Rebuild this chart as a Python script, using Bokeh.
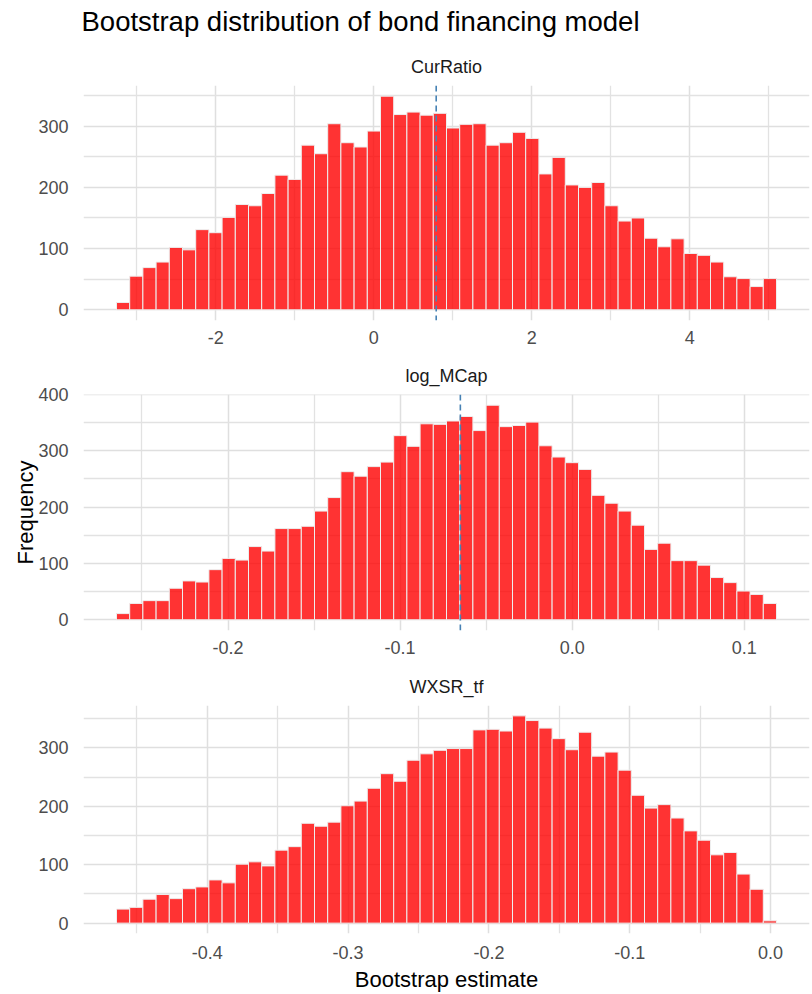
from bokeh.plotting import figure
from bokeh.models import ColumnDataSource, Span, Title, FixedTicker, PrintfTickFormatter, Range1d
from bokeh.layouts import column
from bokeh.embed import file_html
from bokeh.resources import INLINE

# ---- data ----
chart_title = "Bootstrap distribution of bond financing model"
panel_names = ["CurRatio", "log_MCap", "WXSR_tf"]

curratio_counts = [12, 55, 69, 78, 102, 98, 131, 126, 151, 172,
                   170, 190, 220, 213, 269, 255, 304, 273, 266, 292,
                   349, 319, 323, 318, 321, 297, 303, 304, 269, 273,
                   290, 280, 222, 249, 204, 200, 208, 170, 145, 150,
                   117, 103, 116, 92, 89, 78, 54, 51, 38, 51]
curratio_bin_start = -3.257
curratio_bin_width = 0.1671
curratio_estimate = 0.79
curratio_xticks = [-2, 0, 2, 4]
curratio_xminor = [-3, -1, 1, 3, 5]

logmcap_counts = [11, 29, 34, 34, 56, 69, 67, 89, 109, 106,
                  130, 122, 162, 162, 166, 193, 217, 263, 255, 272,
                  280, 327, 308, 348, 347, 353, 361, 336, 381, 343,
                  345, 351, 309, 289, 279, 267, 221, 207, 193, 168,
                  125, 136, 105, 105, 97, 75, 66, 51, 45, 29]
logmcap_bin_start = -0.2648
logmcap_bin_width = 0.00767
logmcap_estimate = -0.065
logmcap_xticks = [-0.2, -0.1, 0.0, 0.1]
logmcap_xminor = [-0.25, -0.15, -0.05, 0.05]

wxsr_counts = [24, 27, 41, 49, 42, 59, 62, 74, 69, 101,
               105, 98, 125, 131, 171, 166, 173, 201, 209, 231,
               256, 243, 279, 290, 296, 299, 299, 331, 332, 329,
               355, 347, 334, 316, 297, 327, 286, 293, 262, 219,
               197, 203, 180, 158, 142, 117, 121, 84, 58, 4]
wxsr_bin_start = -0.4645
wxsr_bin_width = 0.009375
wxsr_estimate = None
wxsr_xticks = [-0.4, -0.3, -0.2, -0.1, 0.0]
wxsr_xminor = [-0.45, -0.35, -0.25, -0.15, -0.05]

y_ticks_small = [0, 100, 200, 300]
y_ticks_large = [0, 100, 200, 300, 400]
y_minor = [50, 150, 250, 350]

FONT = "Liberation Sans"
W = 812


def make_title_strip():
    t = figure(width=W, height=45, output_backend="svg", toolbar_location=None,
               x_range=Range1d(0, 1), y_range=Range1d(0, 1),
               min_border_left=83, min_border_right=3,
               min_border_top=39, min_border_bottom=0)
    t.title = Title(text=chart_title, align="left", text_font=FONT,
                    text_font_size="27.5px", text_font_style="normal",
                    text_color="black", standoff=6, offset=-2)
    t.xaxis.visible = False
    t.yaxis.visible = False
    t.xgrid.visible = False
    t.ygrid.visible = False
    t.outline_line_color = None
    t.background_fill_color = "white"
    t.border_fill_color = "white"
    return t


def make_panel(name, counts, start, width, est, xticks, xminor, yticks, xfmt,
               height, top, bottom, ylabel=None, xlabel=None, xstandoff=6):
    n = len(counts)
    lefts = [start + i * width for i in range(n)]
    rights = [start + (i + 1) * width for i in range(n)]
    src = ColumnDataSource(dict(left=lefts, right=rights, top=counts, bottom=[0] * n))
    lo, hi = lefts[0], rights[-1]
    span = hi - lo
    ymax = max(counts)
    p = figure(width=W, height=height, output_backend="svg", toolbar_location=None,
               x_range=Range1d(lo - 0.05 * span, hi + 0.05 * span),
               y_range=Range1d(-0.05 * ymax, 1.05 * ymax),
               min_border_left=83, min_border_right=3,
               min_border_top=top, min_border_bottom=bottom)
    p.title = None
    p.outline_line_color = None
    p.background_fill_color = "white"
    p.border_fill_color = "white"

    p.quad(left="left", right="right", top="top", bottom="bottom", source=src,
           fill_color="red", fill_alpha=0.8, line_color="#EEEEEE", line_width=1)
    if est is not None:
        p.add_layout(Span(location=est, dimension="height", line_color="#4682B4",
                          line_dash="6 4", line_width=1.6))

    p.xaxis.ticker = FixedTicker(ticks=xticks, minor_ticks=xminor)
    p.yaxis.ticker = FixedTicker(ticks=yticks, minor_ticks=y_minor)
    p.xaxis.formatter = PrintfTickFormatter(format=xfmt)
    for ax in (p.xaxis, p.yaxis):
        ax.axis_line_color = None
        ax.major_tick_line_color = None
        ax.minor_tick_line_color = None
        ax.major_tick_out = 0
        ax.major_tick_in = 0
        ax.major_label_text_font = FONT
        ax.major_label_text_font_size = "18px"
        ax.major_label_text_color = "#4d4d4d"
        ax.axis_label_text_font = FONT
        ax.axis_label_text_font_size = "22px"
        ax.axis_label_text_font_style = "normal"
        ax.axis_label_text_color = "black"
    p.xaxis.major_label_standoff = xstandoff
    p.yaxis.major_label_standoff = 11
    for g in (p.xgrid, p.ygrid):
        g.grid_line_color = "#DFDFDF"
        g.grid_line_width = 1.5
        g.minor_grid_line_color = "#E2E2E2"
        g.minor_grid_line_width = 1.3
    if ylabel:
        p.yaxis.axis_label = ylabel
        p.yaxis.axis_label_standoff = -3
    if xlabel:
        p.xaxis.axis_label = xlabel
        p.xaxis.axis_label_standoff = 5

    p.add_layout(Title(text=name, align="center", text_font=FONT, text_font_size="18px",
                       text_font_style="normal", text_color="#1a1a1a", standoff=17), "above")
    return p


t0 = make_title_strip()
p1 = make_panel(panel_names[0], curratio_counts, curratio_bin_start, curratio_bin_width,
                curratio_estimate, curratio_xticks, curratio_xminor, y_ticks_small, "%d",
                height=307, top=40, bottom=32)
p2 = make_panel(panel_names[1], logmcap_counts, logmcap_bin_start, logmcap_bin_width,
                logmcap_estimate, logmcap_xticks, logmcap_xminor, y_ticks_large, "%.1f",
                height=310, top=42, bottom=32, ylabel="Frequency")
p3 = make_panel(panel_names[2], wxsr_counts, wxsr_bin_start, wxsr_bin_width,
                wxsr_estimate, wxsr_xticks, wxsr_xminor, y_ticks_small, "%.1f",
                height=332, top=43, bottom=55, xlabel="Bootstrap estimate", xstandoff=8)

layout = column(t0, p1, p2, p3, spacing=0)
open("out.html", "w").write(file_html(layout, INLINE))
